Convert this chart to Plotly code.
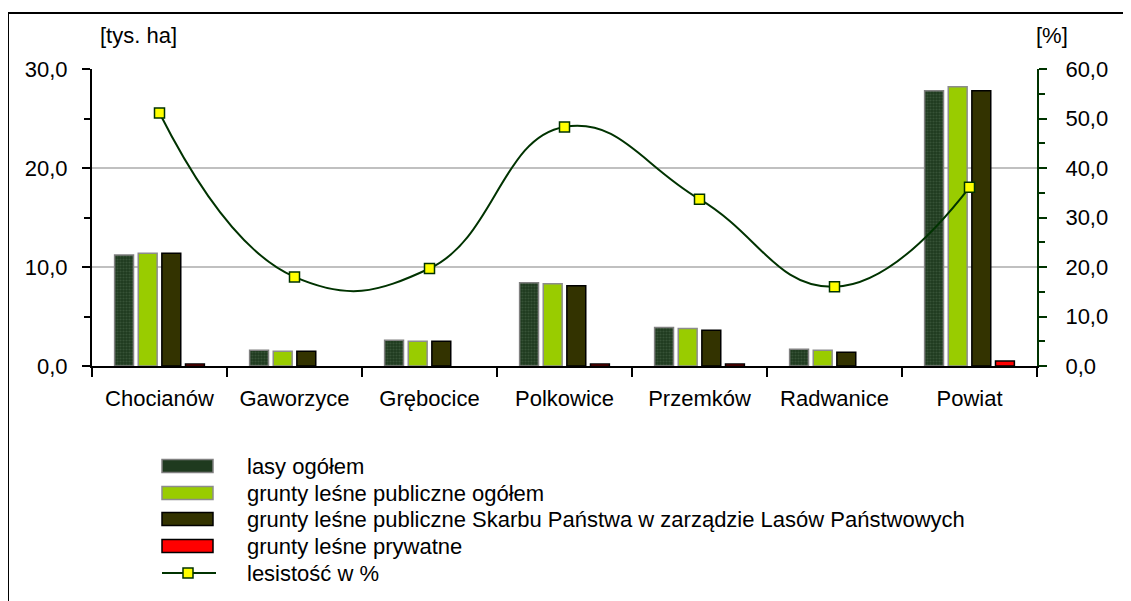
import plotly.graph_objects as go

# ---- data ----
categories = ["Chocianów", "Gaworzyce", "Grębocice", "Polkowice", "Przemków", "Radwanice", "Powiat"]
lasy_ogolem = [11.2, 1.6, 2.6, 8.4, 3.9, 1.7, 27.8]
publiczne_ogolem = [11.4, 1.5, 2.5, 8.3, 3.8, 1.6, 28.2]
publiczne_lp = [11.4, 1.5, 2.5, 8.1, 3.6, 1.4, 27.8]
prywatne = [0.2, 0.0, 0.0, 0.2, 0.2, 0.0, 0.5]
lesistosc = [51.1, 18.0, 19.7, 48.3, 33.7, 16.0, 36.1]

series_names = [
    "lasy ogółem",
    "grunty leśne publiczne ogółem",
    "grunty leśne publiczne Skarbu Państwa w zarządzie Lasów Państwowych",
    "grunty leśne prywatne",
    "lesistość w %",
]

FONT = "Liberation Sans, Arial, sans-serif"
FS = 22
OFF = 8  # page body margin
W, H = 1131 - OFF, 601 - OFF
# plot area in reference px (converted by OFF)
L, R, T, B = 92 - OFF, 1037 - OFF, 69 - OFF, 366 - OFF
LINE_COL = "#003300"

def px_x(px):
    return (px - OFF - L) / (R - L)

def px_y(py):
    return (B - (py - OFF)) / (B - T)

fig = go.Figure()

fig.add_bar(x=categories, y=lasy_ogolem, name=series_names[0],
            marker=dict(color="#1f3a1f", line=dict(color="#808080", width=1.5),
                        pattern=dict(shape=".", fgcolor="#4d6b4d", size=3, solidity=0.4)))
fig.add_bar(x=categories, y=publiczne_ogolem, name=series_names[1],
            marker=dict(color="#99CC00", line=dict(color="#8c8c8c", width=1.5)))
fig.add_bar(x=categories, y=publiczne_lp, name=series_names[2],
            marker=dict(color="#333300", line=dict(color="#000000", width=1.5)))
fig.add_bar(x=categories, y=prywatne, name=series_names[3],
            marker=dict(color="#FF0000",
                        line=dict(color="#000000", width=[1.5 if v > 0 else 0 for v in prywatne])))
fig.add_scatter(x=categories, y=lesistosc, name=series_names[4], yaxis="y2",
                mode="lines+markers",
                line=dict(color=LINE_COL, width=2, shape="spline", smoothing=1.3),
                marker=dict(symbol="square", size=10, color="#FFFF00",
                            line=dict(color=LINE_COL, width=1.5)))

shapes = []
annotations = []

# outer frame
shapes.append(dict(type="rect", xref="paper", yref="paper",
                   x0=px_x(8), x1=px_x(1160), y0=px_y(13), y1=px_y(640),
                   line=dict(color="black", width=2), fillcolor="rgba(0,0,0,0)", layer="below"))

# axis unit labels
annotations.append(dict(text="[tys. ha]", xref="paper", yref="paper", x=px_x(138), y=px_y(35),
                        showarrow=False, xanchor="center", yanchor="middle",
                        font=dict(family=FONT, size=FS, color="black")))
annotations.append(dict(text="[%]", xref="paper", yref="paper", x=px_x(1052), y=px_y(35),
                        showarrow=False, xanchor="center", yanchor="middle",
                        font=dict(family=FONT, size=FS, color="black")))

# custom legend
leg_rows = [466, 493, 519, 546, 573]
leg_fill = ["#1f3a1f", "#99CC00", "#333300", "#FF0000"]
leg_edge = ["#808080", "#8c8c8c", "#000000", "#000000"]
for i, cy in enumerate(leg_rows):
    if i < 4:
        shapes.append(dict(type="rect", xref="paper", yref="paper",
                           x0=px_x(162), x1=px_x(213), y0=px_y(cy - 6.5), y1=px_y(cy + 6.5),
                           fillcolor=leg_fill[i], line=dict(color=leg_edge[i], width=1.5)))
    else:
        shapes.append(dict(type="line", xref="paper", yref="paper",
                           x0=px_x(162), x1=px_x(216), y0=px_y(cy), y1=px_y(cy),
                           line=dict(color=LINE_COL, width=2)))
        shapes.append(dict(type="rect", xref="paper", yref="paper",
                           x0=px_x(183), x1=px_x(193), y0=px_y(cy - 5), y1=px_y(cy + 5),
                           fillcolor="#FFFF00", line=dict(color=LINE_COL, width=1.5)))
    annotations.append(dict(text=series_names[i], xref="paper", yref="paper",
                            x=px_x(245), y=px_y(cy), showarrow=False,
                            xanchor="left", yanchor="middle",
                            font=dict(family=FONT, size=FS, color="black")))

fig.update_layout(
    width=W, height=H,
    margin=dict(l=L, r=W - R, t=T, b=H - B, autoexpand=False),
    paper_bgcolor="white", plot_bgcolor="white",
    font=dict(family=FONT, size=FS, color="black"),
    separators=", ",
    barmode="group", bargap=0.3, bargroupgap=0.2,
    showlegend=False,
    shapes=shapes, annotations=annotations,
    xaxis=dict(type="category", showline=True, linecolor="black", linewidth=2,
               ticks="outside", tickson="boundaries", ticklen=9, tickcolor="black", tickwidth=2,
               showgrid=False, ticklabelstandoff=12,
               tickfont=dict(family=FONT, size=FS)),
    yaxis=dict(range=[0, 30], dtick=10, tickformat=".1f", showline=True, linecolor="black",
               linewidth=2, ticks="outside", ticklen=8, tickcolor="black", tickwidth=2,
               showgrid=True, gridcolor="#C0C0C0", gridwidth=2, zeroline=False,
               minor=dict(dtick=5, ticks="outside", ticklen=6, tickcolor="black", tickwidth=2,
                          showgrid=False),
               ticklabelstandoff=10, tickfont=dict(family=FONT, size=FS)),
    yaxis2=dict(range=[0, 60], dtick=10, tickformat=".1f", overlaying="y", side="right",
                showline=True, linecolor=LINE_COL, linewidth=2, ticks="outside", ticklen=8,
                tickcolor=LINE_COL, tickwidth=2, showgrid=False, zeroline=False,
                minor=dict(dtick=5, ticks="outside", ticklen=6, tickcolor=LINE_COL, tickwidth=2,
                           showgrid=False),
                ticklabelstandoff=14, tickfont=dict(family=FONT, size=FS)),
)

fig.write_html("out.html")
